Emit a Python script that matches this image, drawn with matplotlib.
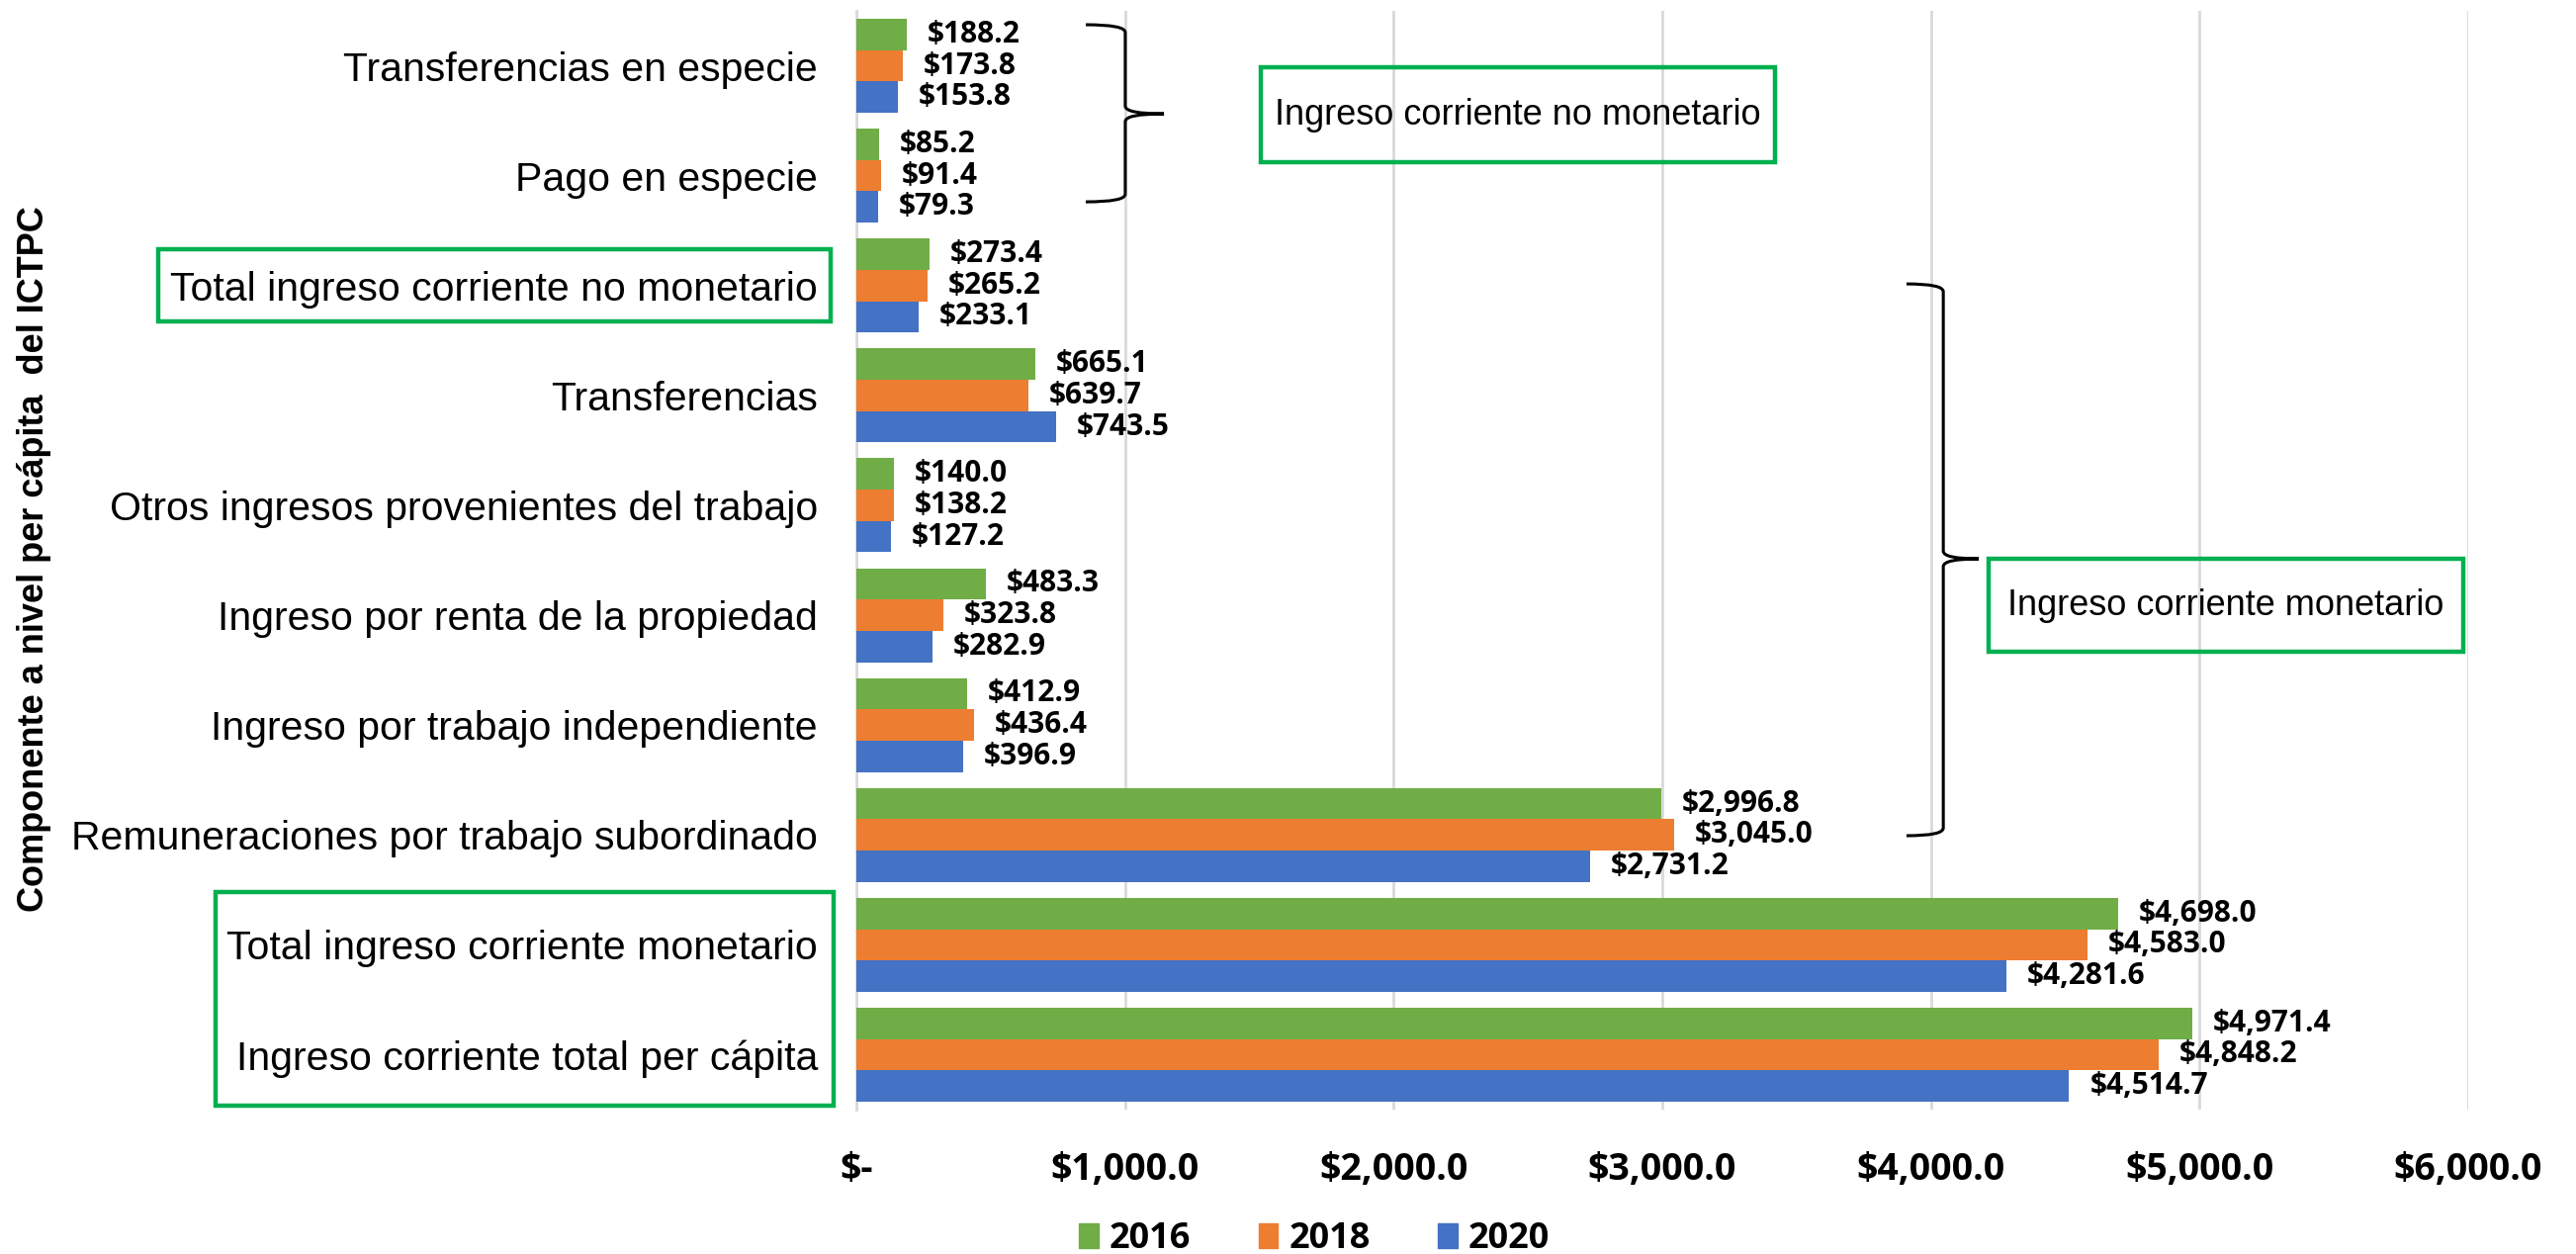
import matplotlib
matplotlib.use('Agg')
import matplotlib.pyplot as plt
import numpy as np
from matplotlib.patches import Rectangle, Patch, PathPatch
from matplotlib.path import Path
from matplotlib.ticker import FuncFormatter

categories = ['Transferencias en especie',
              'Pago en especie',
              'Total ingreso corriente no monetario',
              'Transferencias',
              'Otros ingresos provenientes del trabajo',
              'Ingreso por renta de la propiedad',
              'Ingreso por trabajo independiente',
              'Remuneraciones por trabajo subordinado',
              'Total ingreso corriente monetario',
              'Ingreso corriente total per cápita']

v2016 = [188.2, 85.2, 273.4, 665.1, 140.0, 483.3, 412.9, 2996.8, 4698.0, 4971.4]
v2018 = [173.8, 91.4, 265.2, 639.7, 138.2, 323.8, 436.4, 3045.0, 4583.0, 4848.2]
v2020 = [153.8, 79.3, 233.1, 743.5, 127.2, 282.9, 396.9, 2731.2, 4281.6, 4514.7]

years = ['2016', '2018', '2020']
colors = ['#70AD47', '#ED7D31', '#4472C4']
boxgreen = '#00B050'

W, H = 2605, 1268
fig = plt.figure(figsize=(W/100., H/100.), dpi=100)
ax = fig.add_axes([866./W, 1-1122./H, 1630./W, 1111./H])

y = np.arange(len(categories))
bh = 0.285
for k, vals in enumerate([v2016, v2018, v2020]):
  ypos = y + (k-1)*bh
  ax.barh(ypos, vals, height=bh, color=colors[k], zorder=3)
  for yy, v in zip(ypos, vals):
    ax.annotate('${:,.1f}'.format(v), (v, yy), xytext=(15, 0), textcoords='offset points',
                ha='left', va='center', fontsize=21.5, fontweight='bold', family='Open Sans')

ax.set_xlim(0, 6000)
ax.set_ylim(len(categories)-0.5, -0.5)
ax.set_xticks(np.arange(0, 6001, 1000))
ax.xaxis.set_major_formatter(FuncFormatter(lambda v, p: '$-' if v == 0 else '${:,.1f}'.format(v)))
ax.set_yticks(y)
ax.set_yticklabels(categories, fontsize=29.5, family='Liberation Sans')
for lab in ax.get_xticklabels():
  lab.set_fontsize(27)
  lab.set_fontweight('bold')
  lab.set_family('Open Sans')
ax.tick_params(axis='both', length=0)
ax.tick_params(axis='y', pad=28)
ax.tick_params(axis='x', pad=30)
ax.grid(axis='x', color='#D9D9D9', linewidth=2, zorder=0)
for s in ['top', 'right', 'bottom']:
  ax.spines[s].set_visible(False)
ax.spines['left'].set_color('#D9D9D9')
ax.spines['left'].set_linewidth(2)

fig.text(35./W, 1-565./H, 'Componente a nivel per cápita  del ICTPC', rotation=90,
         ha='center', va='center', fontsize=26, fontweight='bold', family='Liberation Sans')

# curly braces
def brace(x_end, x_spine, x_tip, y_top, y_bot, y_mid, r=0.07):
  verts = [(x_end, y_top), (x_spine, y_top), (x_spine, y_top+r),
           (x_spine, y_mid-r), (x_spine, y_mid), (x_tip, y_mid),
           (x_spine, y_mid), (x_spine, y_mid+r),
           (x_spine, y_bot-r), (x_spine, y_bot), (x_end, y_bot)]
  codes = [Path.MOVETO, Path.CURVE3, Path.CURVE3,
           Path.LINETO, Path.CURVE3, Path.CURVE3,
           Path.CURVE3, Path.CURVE3,
           Path.LINETO, Path.CURVE3, Path.CURVE3]
  ax.add_patch(PathPatch(Path(verts, codes), fill=False, lw=2.2, color='black', zorder=5, clip_on=False))

brace(854, 1001, 1145, -0.374, 1.238, 0.437)
brace(3909, 4046, 4178, 1.985, 7.007, 4.487)

# group boxes
ax.add_patch(Rectangle((1506, 0.0135), 3420-1506, 0.878-0.0135, fill=False, ec=boxgreen, lw=3.2,
                       zorder=6, clip_on=False))
ax.text(2463, 0.446, 'Ingreso corriente no monetario', ha='center', va='center', fontsize=26,
        family='Liberation Sans', zorder=7)
ax.add_patch(Rectangle((4215, 4.487), 5982-4215, 5.333-4.487, fill=False, ec=boxgreen, lw=3.2,
                       zorder=6, clip_on=False))
ax.text(5098, 4.91, 'Ingreso corriente monetario', ha='center', va='center', fontsize=26,
        family='Liberation Sans', zorder=7)

fig.add_artist(Rectangle((160./W, 1-325./H), 680./W, 73./H, fill=False, ec=boxgreen, lw=3.2,
                         transform=fig.transFigure))
fig.add_artist(Rectangle((218./W, 1-1118./H), 625./W, 216./H, fill=False, ec=boxgreen, lw=3.2,
                         transform=fig.transFigure))

handles = [Patch(color=c, label=l) for c, l in zip(colors, years)]
fig.legend(handles=handles, loc='center', bbox_to_anchor=(1329./W, 1-1253./H), ncol=3, frameon=False,
           prop={'family': 'Open Sans', 'weight': 'bold', 'size': 26},
           handlelength=0.55, handleheight=0.7, handletextpad=0.3, columnspacing=1.9)

plt.savefig('out.png', dpi=100)
plt.close('all')
